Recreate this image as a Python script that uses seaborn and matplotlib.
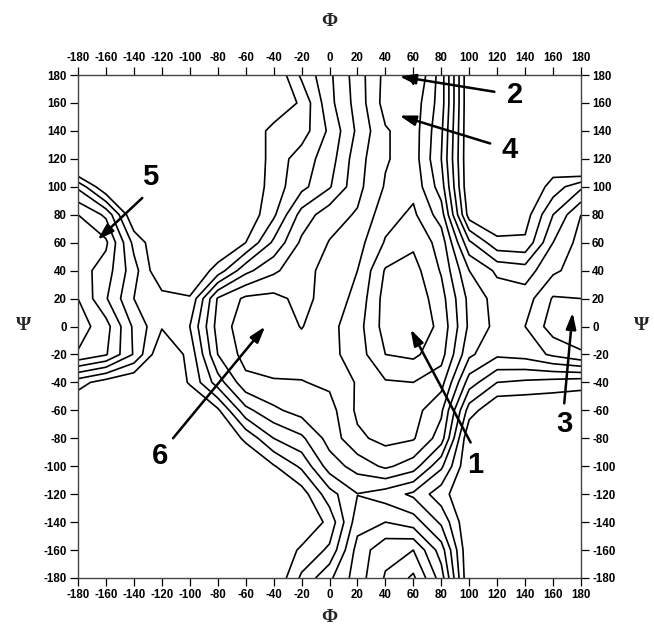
import numpy as np
import matplotlib
matplotlib.use("Agg")
import matplotlib.pyplot as plt
import seaborn as sns

# ---- data: relative energy on a 20-degree grid ----
phi_values = [-180, -160, -140, -120, -100, -80, -60, -40, -20, 0, 20, 40, 60, 80, 100, 120, 140, 160, 180]
psi_values = [180, 160, 140, 120, 100, 80, 60, 40, 20, 0, -20, -40, -60, -80, -100, -120, -140, -160, -180]

e_p180 = [10, 10, 10, 10, 10, 10, 10, 10, 7.8, 6.2, 4.5, 2.7, 1.8, 4.5, 10, 10, 10, 10, 10]
e_p160 = [10, 10, 10, 10, 10, 10, 10, 10, 8.8, 6.3, 4.6, 2.6, 2.4, 4.5, 10, 10, 10, 10, 10]
e_p140 = [10, 10, 10, 10, 10, 10, 10, 8.6, 8.5, 6.8, 4.8, 3.1, 2.5, 4.8, 10, 10, 10, 10, 10]
e_p120 = [12, 10, 10, 10, 10, 10, 10, 8.6, 7.5, 6.5, 4.4, 3.1, 2.5, 5.0, 10, 10, 10, 9.8, 12]
e_p100 = [7.2, 10, 10, 10, 10, 10, 10, 8.5, 7.3, 6.1, 4.3, 2.9, 2.3, 4.5, 10, 10, 10, 8.6, 7.2]
e_p80 = [5.0, 6.2, 10, 10, 10, 10, 9.8, 8.2, 5.6, 4.4, 3.9, 2.4, 1.8, 3.5, 9.5, 10, 9.5, 7.0, 5.0]
e_p60 = [4.6, 4.8, 8.3, 10, 10, 10, 9.0, 6.8, 4.8, 3.95, 3.4, 1.9, 1.2, 2.4, 6.8, 8.7, 8.8, 6.0, 4.6]
e_p40 = [4.5, 5.5, 7.6, 10, 10, 8.6, 6.3, 5.2, 4.3, 3.7, 3.0, 0.9, 0.6, 2.1, 5.0, 6.2, 6.5, 5.2, 4.5]
e_p20 = [4.0, 5.9, 8.0, 8.6, 8.9, 4.9, 3.8, 3.7, 4.3, 3.6, 2.7, 0.6, 0.3, 1.6, 4.3, 5.4, 5.5, 3.9, 4.0]
e_0 = [3.5, 4.6, 7.2, 8.9, 8.0, 4.6, 3.4, 3.4, 4.05, 3.3, 2.4, 0.6, 0.2, 1.3, 4.2, 5.3, 5.0, 3.5, 3.5]
e_m20 = [4.1, 4.9, 7.1, 10, 8.7, 5.0, 3.6, 3.4, 3.5, 3.3, 2.5, 1.0, 0.8, 1.6, 4.8, 5.8, 5.6, 4.8, 4.1]
e_m40 = [8.6, 9.5, 10, 10, 8.9, 6.5, 4.3, 4.1, 4.05, 3.8, 2.9, 2.1, 2.0, 2.6, 6.5, 8.0, 8.2, 8.4, 8.6]
e_m60 = [10, 10, 10, 10, 10, 9.2, 6.3, 5.2, 4.6, 4.4, 2.8, 2.5, 2.6, 3.8, 8.5, 10, 10, 10, 10]
e_m80 = [10, 10, 10, 10, 10, 10, 8.8, 7.0, 6.2, 4.6, 3.2, 2.7, 2.9, 4.5, 10, 10, 10, 10, 10]
e_m100 = [10, 10, 10, 10, 10, 10, 10, 9.1, 7.8, 5.5, 4.6, 3.8, 4.5, 6.8, 10, 10, 10, 10, 10]
e_m120 = [10, 10, 10, 10, 10, 10, 10, 10, 9.5, 7.4, 6.03, 6.5, 7.2, 8.6, 10, 10, 10, 10, 10]
e_m140 = [10, 10, 10, 10, 10, 10, 10, 10, 10, 8.7, 5.4, 5.0, 5.5, 7.2, 10, 10, 10, 10, 10]
e_m160 = [10, 10, 10, 10, 10, 10, 10, 10, 8.8, 7.8, 4.6, 3.3, 3.0, 5.5, 10, 10, 10, 10, 10]
e_m180 = [10, 10, 10, 10, 10, 10, 10, 10, 7.8, 6.2, 4.5, 2.9, 1.8, 4.5, 10, 10, 10, 10, 10]

contour_levels = [1, 2, 3, 4, 5, 6, 7, 8, 9]
tick_values = list(range(-180, 181, 20))

# annotations: label, text position, arrow tail, arrow tip (phi, psi)
ann_labels = ["1", "2", "3", "4", "5", "6"]
ann_text_phi = [104, 133, 168, 129, -128, -121]
ann_text_psi = [-99, 166, -70, 126, 107, -93]
ann_tail_phi = [101, 118, 168, 115, -134, -112]
ann_tail_psi = [-83, 168, -55, 131, 92, -80]
ann_tip_phi = [58, 50, 174, 50, -166, -46]
ann_tip_psi = [-2, 179, 10, 151, 62, 0]

# ---- figure ----
sns.set_theme(style="ticks")
plt.rcParams["font.family"] = ["Liberation Sans", "DejaVu Sans"]
plt.rcParams["font.weight"] = "bold"
plt.rcParams["axes.unicode_minus"] = False

energy = np.array([e_p180, e_p160, e_p140, e_p120, e_p100, e_p80, e_p60, e_p40, e_p20, e_0,
                   e_m20, e_m40, e_m60, e_m80, e_m100, e_m120, e_m140, e_m160, e_m180])
PHI, PSI = np.meshgrid(phi_values, psi_values)

fig = plt.figure(figsize=(6.54, 6.31), dpi=100)
fig.patch.set_facecolor("white")
ax = fig.add_axes([78 / 654, 1 - 578 / 631, 503 / 654, 503 / 631])
ax.set_facecolor("white")

ax.contour(PHI, PSI, energy, levels=contour_levels, colors="black", linewidths=1.2)

ax.set_xlim(-180, 180)
ax.set_ylim(-180, 180)
ax.set_xticks(tick_values)
ax.set_yticks(tick_values)
ax.tick_params(direction="out", length=6, width=0.9, colors="black", labelsize=8.3,
               top=True, right=True, labeltop=True, labelright=True, pad=2)
for side in ["top", "bottom", "left", "right"]:
    ax.spines[side].set_visible(True)
    ax.spines[side].set_color("#444444")
    ax.spines[side].set_linewidth(1.0)

for lab, tx, ty, sx, sy, hx, hy in zip(ann_labels, ann_text_phi, ann_text_psi,
                                       ann_tail_phi, ann_tail_psi, ann_tip_phi, ann_tip_psi):
    ax.annotate("", xy=(hx, hy), xytext=(sx, sy),
                arrowprops=dict(arrowstyle="-|>,head_length=0.8,head_width=0.25",
                                color="black", lw=1.8, mutation_scale=12, shrinkA=0, shrinkB=0))
    ax.text(tx, ty, lab, fontsize=21, fontweight="bold", ha="center", va="center", color="black")

serif = ["Liberation Serif", "DejaVu Serif"]
fig.text(329 / 654, 1 - 22 / 631, "Φ", family=serif, fontsize=14, fontweight="bold", ha="center", va="center")
fig.text(329 / 654, 1 - 617 / 631, "Φ", family=serif, fontsize=14, fontweight="bold", ha="center", va="center")
fig.text(24 / 654, 1 - 326 / 631, "Ψ", family=serif, fontsize=14, fontweight="bold", ha="center", va="center")
fig.text(642 / 654, 1 - 326 / 631, "Ψ", family=serif, fontsize=14, fontweight="bold", ha="center", va="center")

fig.savefig("out.png", dpi=100, facecolor="white")
